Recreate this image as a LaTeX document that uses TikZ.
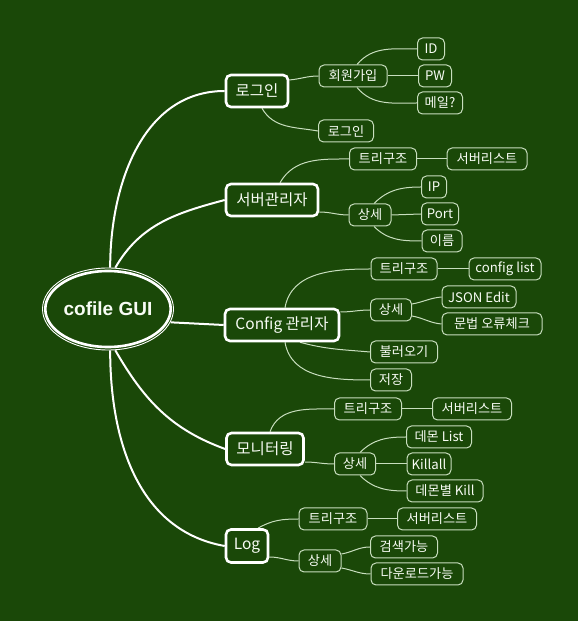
\documentclass[tikz,border=0pt]{standalone}
\usepackage{fontspec}
\setmainfont{Noto Sans CJK KR}
\newfontfamily\guifont{Liberation Sans}
\usetikzlibrary{shapes.geometric,calc}
\definecolor{bg}{RGB}{26,72,8}
\definecolor{leafline}{RGB}{200,222,190}
\definecolor{txt}{RGB}{248,252,245}
\pgfdeclarelayer{bgfill}
\pgfdeclarelayer{links}
\pgfsetlayers{bgfill,links,main}
\begin{document}
\begin{tikzpicture}[x=1pt,y=1pt,
  mainbox/.style={draw=white, line width=2.6pt, rounded corners=5pt, fill=bg, text=txt,
    font=\fontsize{15.5}{18}\selectfont, inner sep=0pt, minimum height=32},
  leafbox/.style={draw=leafline, line width=1pt, rounded corners=5pt, fill=bg, text=txt,
    font=\fontsize{13.2}{15}\selectfont, inner sep=0pt, minimum height=22},
  mainlink/.style={draw=white, line width=2pt},
  leaflink/.style={draw=leafline, line width=1pt},
]
\begin{pgfonlayer}{bgfill}
\fill[bg] (0,0) rectangle (578,621);
\end{pgfonlayer}
\useasboundingbox (0,0) rectangle (578,621);

% central node
\node[ellipse, draw=white, line width=2.6pt, minimum width=124, minimum height=76,
  inner sep=0pt, outer sep=3.5pt, fill=bg, text=txt,
  font=\guifont\bfseries\fontsize{19}{23}\selectfont] (gui) at (108,312) {cofile GUI};
\draw[white, line width=0.9pt] (gui.center) ellipse [x radius=65.5, y radius=41];

% main nodes
\node[mainbox, minimum width=62] (lg) at (257,530) {로그인};
\node[mainbox, minimum width=92] (sv) at (272,421) {서버관리자};
\node[mainbox, minimum width=114] (cf) at (282,296) {Config 관리자};
\node[mainbox, minimum width=77] (mn) at (265,172) {모니터링};
\node[mainbox, minimum width=42, minimum height=33] (lgn) at (247,75) {Log};

% login group
\node[leafbox, minimum width=68] (jn) at (353,545) {회원가입};
\node[leafbox, minimum width=27] (id) at (431,572) {ID};
\node[leafbox, minimum width=33] (pw) at (435,545) {PW};
\node[leafbox, minimum width=45] (ml) at (440,518) {메일?};
\node[leafbox, minimum width=55] (li) at (346,490) {로그인};

% server group
\node[leafbox, minimum width=67] (st1) at (383,462) {트리구조};
\node[leafbox, minimum width=80] (sl1) at (487,462) {서버리스트};
\node[leafbox, minimum width=42] (sd1) at (370,406) {상세};
\node[leafbox, minimum width=25] (ip) at (434,434) {IP};
\node[leafbox, minimum width=37] (pt) at (440,407) {Port};
\node[leafbox, minimum width=40] (nm) at (442,380) {이름};

% config group
\node[leafbox, minimum width=66] (ct) at (404,352) {트리구조};
\node[leafbox, minimum width=72] (cl) at (505,352) {config list};
\node[leafbox, minimum width=41] (cd) at (391,311) {상세};
\node[leafbox, minimum width=74] (je) at (479,324) {JSON Edit};
\node[leafbox, minimum width=100] (gc) at (492,297) {문법 오류체크};
\node[leafbox, minimum width=67] (ld) at (404,269) {불러오기};
\node[leafbox, minimum width=41] (sa) at (391,241) {저장};

% monitoring group
\node[leafbox, minimum width=67] (mt) at (368,212) {트리구조};
\node[leafbox, minimum width=79] (ms) at (472,212) {서버리스트};
\node[leafbox, minimum width=41] (md) at (355,157) {상세};
\node[leafbox, minimum width=65] (dl) at (439,184) {데몬 List};
\node[leafbox, minimum width=44] (ka) at (429,157) {Killall};
\node[leafbox, minimum width=76] (dk) at (445,130) {데몬별 Kill};

% log group
\node[leafbox, minimum width=68] (lt) at (333,102) {트리구조};
\node[leafbox, minimum width=79] (ls) at (437,102) {서버리스트};
\node[leafbox, minimum width=42] (ld2) at (320,60) {상세};
\node[leafbox, minimum width=67] (se) at (404,74) {검색가능};
\node[leafbox, minimum width=92] (dn) at (417,47) {다운로드가능};

\begin{pgfonlayer}{links}
% main links
\draw[mainlink] (gui.87) to[out=90,in=180] (lg.west);
\draw[mainlink] (gui.80) to[out=60,in=195] (sv.west);
\draw[mainlink] (gui.-12) -- (cf.west);
\draw[mainlink] (gui.-80) to[out=-60,in=160] (mn.west);
\draw[mainlink] (gui.-87) to[out=-90,in=170] (lgn.west);

% login
\draw[leaflink] ([yshift=11pt]lg.east) to[out=5,in=180] (jn.west);
\draw[leaflink] ([xshift=5pt]lg.south) to[out=-60,in=170] (li.west);
\draw[leaflink] ([xshift=4pt]jn.north) to[out=50,in=180] (id.west);
\draw[leaflink] (jn.east) -- (pw.west);
\draw[leaflink] ([xshift=4pt]jn.south) to[out=-50,in=180] (ml.west);

% server
\draw[leaflink] ([xshift=8pt]sv.north) to[out=60,in=180] (st1.west);
\draw[leaflink] (st1.east) -- (sl1.west);
\draw[leaflink] ([yshift=-12pt]sv.east) to[out=0,in=180] (sd1.west);
\draw[leaflink] ([xshift=4pt]sd1.north) to[out=45,in=180] (ip.west);
\draw[leaflink] (sd1.east) -- (pt.west);
\draw[leaflink] ([xshift=4pt]sd1.south) to[out=-45,in=180] (nm.west);

% config
\draw[leaflink] ([xshift=3pt]cf.north) to[out=80,in=180] (ct.west);
\draw[leaflink] (ct.east) -- (cl.west);
\draw[leaflink] ([yshift=13pt]cf.east) to[out=0,in=180] (cd.west);
\draw[leaflink] ([yshift=6pt]cd.east) to[out=10,in=185] (je.west);
\draw[leaflink] ([yshift=-6pt]cd.east) to[out=-10,in=175] (gc.west);
\draw[leaflink] ([xshift=18pt]cf.south) to[out=-15,in=175] (ld.west);
\draw[leaflink] ([xshift=3pt]cf.south) to[out=-80,in=180] (sa.west);

% monitoring
\draw[leaflink] ([xshift=5pt]mn.north) to[out=70,in=180] (mt.west);
\draw[leaflink] (mt.east) -- (ms.west);
\draw[leaflink] ([yshift=-13pt]mn.east) to[out=0,in=180] (md.west);
\draw[leaflink] ([xshift=5pt]md.north) to[out=45,in=180] (dl.west);
\draw[leaflink] (md.east) -- (ka.west);
\draw[leaflink] ([xshift=5pt]md.south) to[out=-45,in=180] (dk.west);

% log
\draw[leaflink] ([xshift=11pt]lgn.north) to[out=30,in=180] (lt.west);
\draw[leaflink] (lt.east) -- (ls.west);
\draw[leaflink] ([yshift=-11pt]lgn.east) to[out=0,in=180] (ld2.west);
\draw[leaflink] ([yshift=7pt]ld2.east) to[out=10,in=180] (se.west);
\draw[leaflink] ([yshift=-7pt]ld2.east) to[out=-10,in=180] (dn.west);
\end{pgfonlayer}
\end{tikzpicture}
\end{document}
